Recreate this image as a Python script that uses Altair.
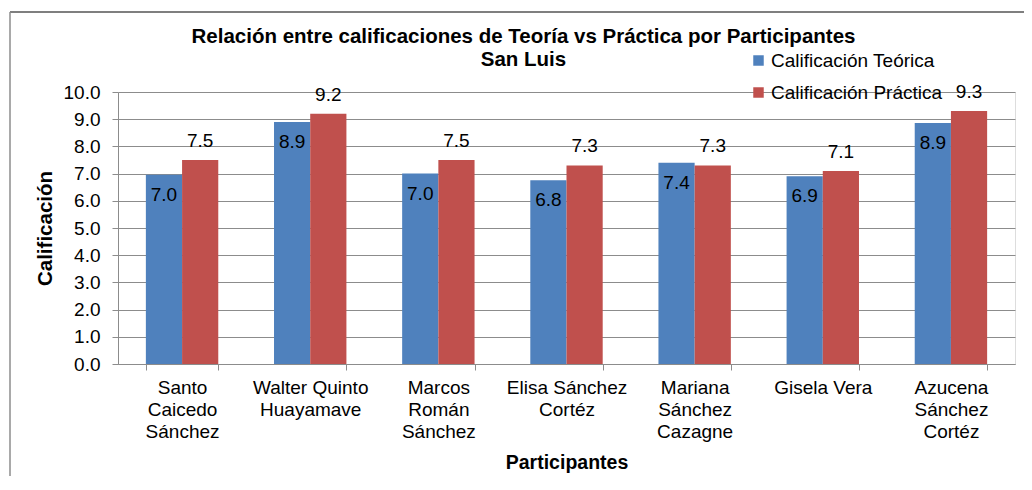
import altair as alt
import pandas as pd

participantes = [
    "Santo\nCaicedo\nSánchez",
    "Walter Quinto\nHuayamave",
    "Marcos\nRomán\nSánchez",
    "Elisa Sánchez\nCortéz",
    "Mariana\nSánchez\nCazagne",
    "Gisela Vera",
    "Azucena\nSánchez\nCortéz",
]
teorica = [6.96, 8.9, 7.0, 6.76, 7.4, 6.9, 8.86]
practica = [7.5, 9.2, 7.5, 7.3, 7.3, 7.1, 9.3]
series = ["Calificación Teórica", "Calificación Práctica"]
colores = ["#4F81BD", "#C0504D"]
y_ticks = [0, 1, 2, 3, 4, 5, 6, 7, 8, 9, 10]

rows = []
for i, p in enumerate(participantes):
    rows.append({"participante": p, "serie": series[0], "valor": teorica[i]})
    rows.append({"participante": p, "serie": series[1], "valor": practica[i]})
df = pd.DataFrame(rows)

FONT = "Liberation Sans"
GRAY = "#8C8C8C"

x_enc = alt.X(
    "participante:N",
    sort=participantes,
    scale=alt.Scale(paddingInner=0.435, paddingOuter=0.2175),
    axis=alt.Axis(
        title="Participantes",
        titleFont=FONT, titleFontSize=19.5, titleFontWeight="bold", titleColor="black",
        titlePadding=12,
        labelExpr="split(datum.label, '\\n')",
        labelAngle=0, labelFont=FONT, labelFontSize=19, labelColor="black",
        labelLineHeight=22, labelBaseline="top", labelPadding=8,
        tickBand="extent", tickSize=6, tickColor=GRAY, domainColor=GRAY,
        labelLimit=300,
    ),
)
y_enc = alt.Y(
    "valor:Q",
    scale=alt.Scale(domain=[0, 10], nice=False),
    axis=alt.Axis(
        title="Calificación",
        titleFont=FONT, titleFontSize=20.5, titleFontWeight="bold", titleColor="black",
        titlePadding=8,
        values=y_ticks, format=".1f", labelOverlap=False,
        labelFont=FONT, labelFontSize=19, labelColor="black", labelPadding=12,
        tickSize=6, tickColor=GRAY, domainColor=GRAY,
        grid=True, gridColor=GRAY, gridWidth=1,
    ),
)
xo_enc = alt.XOffset("serie:N", sort=series)

base = alt.Chart(df)

bars = base.mark_bar().encode(
    x=x_enc,
    xOffset=xo_enc,
    y=y_enc,
    color=alt.Color(
        "serie:N",
        sort=series,
        scale=alt.Scale(domain=series, range=colores),
        legend=alt.Legend(
            title=None, orient="none", legendX=631, legendY=-41,
            symbolType="square", symbolSize=110, symbolStrokeWidth=0,
            labelFont=FONT, labelFontSize=19, labelColor="black",
            labelOffset=3, rowPadding=12, labelLimit=400,
        ),
    ),
)

lbl_t = base.mark_text(font=FONT, fontSize=19, color="black", baseline="middle", dy=20).encode(
    x=x_enc, xOffset=xo_enc, y=y_enc,
    text=alt.Text("valor:Q", format=".1f"),
).transform_filter(alt.datum.serie == series[0])

lbl_p = base.mark_text(font=FONT, fontSize=19, color="black", baseline="middle", dy=-19).encode(
    x=x_enc, xOffset=xo_enc, y=y_enc,
    text=alt.Text("valor:Q", format=".1f"),
).transform_filter(alt.datum.serie == series[1])

one = pd.DataFrame({"a": [0]})
border_top = alt.Chart(one).mark_rule(color="#7F7F7F", strokeWidth=2).encode(
    x=alt.value(-108), x2=alt.value(940), y=alt.value(-80)
)
border_left = alt.Chart(one).mark_rule(color=GRAY, strokeWidth=1.5).encode(
    x=alt.value(-108), y=alt.value(-80), y2=alt.value(420)
)

chart = alt.layer(border_top, border_left, bars, lbl_t, lbl_p).properties(
    width=897,
    height=272,
    padding={"left": 110, "top": 84, "right": 9, "bottom": 112},
    autosize=alt.AutoSizeParams(type="none"),
    title=alt.TitleParams(
        ["Relación entre calificaciones de Teoría vs Práctica por Participantes", "San Luis"],
        font=FONT, fontSize=20.5, fontWeight="bold", color="black",
        anchor="middle", frame="group", dx=-43, lineHeight=23, offset=-59,
    ),
).configure_view(stroke=None).configure(background="white")

chart.save("out.html", embed_options={"renderer": "svg", "actions": False})
